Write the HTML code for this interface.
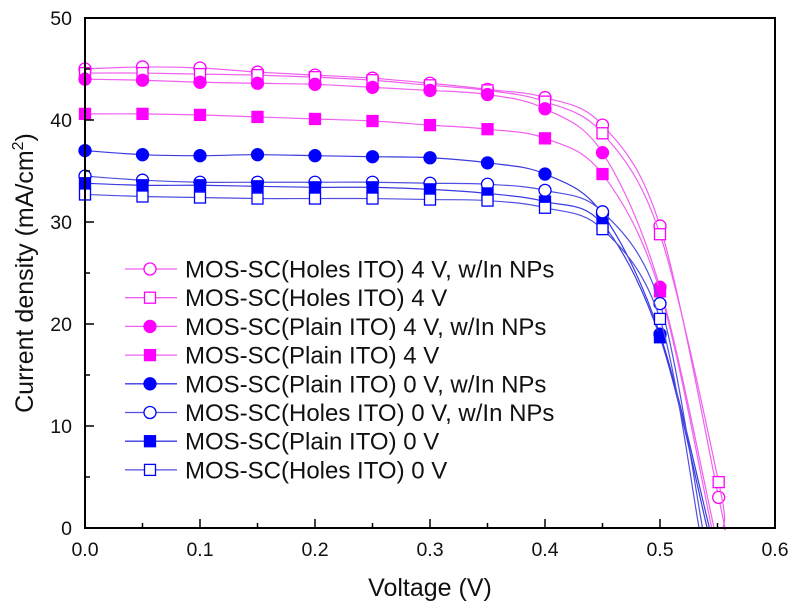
<!DOCTYPE html>
<html><head><meta charset="utf-8"><style>
html,body{margin:0;padding:0;background:#fff;}
svg{display:block;font-family:"Liberation Sans",Arial,sans-serif;}
</style></head><body>
<svg id="chart" width="795" height="608" viewBox="0 0 795 608" xmlns="http://www.w3.org/2000/svg">
<g id="grid"></g><g id="series"></g><g id="axes"></g><g id="legend"></g>
</svg>
<script>
const xVals = [0,0.05,0.1,0.15,0.2,0.25,0.3,0.35,0.4,0.45,0.5];
const seriesNames = ["MOS-SC(Holes ITO) 4 V, w/In NPs","MOS-SC(Holes ITO) 4 V","MOS-SC(Plain ITO) 4 V, w/In NPs","MOS-SC(Plain ITO) 4 V","MOS-SC(Plain ITO) 0 V, w/In NPs","MOS-SC(Holes ITO) 0 V, w/In NPs","MOS-SC(Plain ITO) 0 V","MOS-SC(Holes ITO) 0 V"];
const s1 = [45.0,45.2,45.1,44.7,44.4,44.1,43.6,43.0,42.2,39.5,29.6,3.0];
const s2 = [44.6,44.6,44.5,44.4,44.2,43.9,43.4,42.9,41.8,38.7,28.8,4.5];
const s3 = [44.0,43.9,43.7,43.6,43.5,43.2,42.9,42.5,41.1,36.8,23.6];
const s4 = [40.6,40.6,40.5,40.3,40.1,39.9,39.5,39.1,38.2,34.7,23.2];
const s5 = [37.0,36.6,36.5,36.6,36.5,36.4,36.3,35.8,34.7,30.8,19.0];
const s6 = [34.5,34.1,33.9,33.9,33.9,33.9,33.8,33.7,33.1,31.0,22.0];
const s7 = [33.8,33.6,33.6,33.5,33.4,33.4,33.2,32.8,32.0,29.8,18.7];
const s8 = [32.7,32.5,32.4,32.3,32.3,32.3,32.2,32.1,31.4,29.3,20.5];
const extraX = [0.551,0.551,null,null,null,null,null,null];
const vocs = [0.556,0.555,0.547,0.545,0.543,0.537,0.541,0.534];
const xTicks = [0,0.1,0.2,0.3,0.4,0.5,0.6];
const xTickLabels = ["0.0","0.1","0.2","0.3","0.4","0.5","0.6"];
const yTicks = [0,10,20,30,40,50];

const allSeries=[s1,s2,s3,s4,s5,s6,s7,s8];
const styles=[
 {c:"#ff00ff",l:"#f060f0",m:"circle",f:false},
 {c:"#ff00ff",l:"#f060f0",m:"square",f:false},
 {c:"#ff00ff",l:"#f060f0",m:"circle",f:true},
 {c:"#ff00ff",l:"#f060f0",m:"square",f:true},
 {c:"#0000ff",l:"#3a3ae0",m:"circle",f:true},
 {c:"#0000ff",l:"#5050e0",m:"circle",f:false},
 {c:"#0000ff",l:"#3a3ae0",m:"square",f:true},
 {c:"#0000ff",l:"#5050e0",m:"square",f:false}];
const X0=85,X1=775,Y0=528,Y1=18;
const xs=v=>X0+(v/0.6)*(X1-X0);
const ys=v=>Y0-(v/50)*(Y0-Y1);
const NS="http://www.w3.org/2000/svg";
function mk(t,a,p){const e=document.createElementNS(NS,t);for(const k in a)e.setAttribute(k,a[k]);p.appendChild(e);return e;}
const gS=document.getElementById('series'),gA=document.getElementById('axes'),gL=document.getElementById('legend');

function marker(g,st,x,y){
 let e;
 if(st.m==="circle") e=mk('circle',{cx:x,cy:y,r:6,fill:st.f?st.c:"#fff",stroke:st.c,'stroke-width':1.3},g);
 else e=mk('rect',{x:x-5.5,y:y-5.5,width:11,height:11,fill:st.f?st.c:"#fff",stroke:st.c,'stroke-width':1.3},g);
 return e;
}
function pathThrough(pts){
 let d="M"+pts[0][0]+","+pts[0][1];
 for(let i=0;i<pts.length-1;i++){
  const p0=pts[Math.max(0,i-1)],p1=pts[i],p2=pts[i+1],p3=pts[Math.min(pts.length-1,i+2)];
  const c1=[p1[0]+(p2[0]-p0[0])/6,p1[1]+(p2[1]-p0[1])/6];
  const c2=[p2[0]-(p3[0]-p1[0])/6,p2[1]-(p3[1]-p1[1])/6];
  d+=" C"+c1[0]+","+c1[1]+" "+c2[0]+","+c2[1]+" "+p2[0]+","+p2[1];
 }
 return d;
}
allSeries.forEach((s,i)=>{
 const st=styles[i];
 const g=mk('g',{},gS);
 
 
 const pts=[];
 s.forEach((v,j)=>{const xv=j<xVals.length?xVals[j]:extraX[i];pts.push([xs(xv),ys(v)]);});
 pts.push([xs(vocs[i]),ys(0)]);
 const p=mk('path',{d:pathThrough(pts),fill:"none",stroke:st.l,'stroke-width':1.2},g);
 
 
 s.forEach((v,j)=>{const xv=j<xVals.length?xVals[j]:extraX[i];
  const m=marker(g,st,xs(xv),ys(v));
  
  });
});
const fr=mk('rect',{x:X0,y:Y1,width:X1-X0,height:Y0-Y1,fill:"none",stroke:"#000",'stroke-width':2},gA);


xTicks.forEach((t,i)=>{
 const x=xs(t);
 mk('line',{x1:x,y1:Y0,x2:x,y2:Y0-9,stroke:"#000",'stroke-width':1.5},gA);
 if(i<xTicks.length-1) mk('line',{x1:xs(t+0.05),y1:Y0,x2:xs(t+0.05),y2:Y0-5,stroke:"#000",'stroke-width':1.5},gA);
 const tx=mk('text',{x:x,y:556,'text-anchor':'middle','font-size':19.5,fill:"#111"},gA);
 tx.textContent=xTickLabels[i];
 
 
});
yTicks.forEach((t,i)=>{
 const y=ys(t);
 mk('line',{x1:X0,y1:y,x2:X0+9,y2:y,stroke:"#000",'stroke-width':1.5},gA);
 if(i<yTicks.length-1) mk('line',{x1:X0,y1:ys(t+5),x2:X0+5,y2:ys(t+5),stroke:"#000",'stroke-width':1.5},gA);
 const tx=mk('text',{x:X0-13,y:y+7,'text-anchor':'end','font-size':19.5,fill:"#111"},gA);
 tx.textContent=t;
 
 
});
const xt=mk('text',{x:430,y:596,'text-anchor':'middle','font-size':25,fill:"#111"},gA);
xt.textContent="Voltage (V)";


const yt=mk('text',{x:0,y:0,'text-anchor':'middle','font-size':25,fill:"#111",transform:"translate(33,"+((Y0+Y1)/2)+") rotate(-90)"},gA);
yt.innerHTML='Current density (mA/cm<tspan dy="-10" font-size="16">2</tspan><tspan dy="10">)</tspan>';


seriesNames.forEach((n,i)=>{
 const st=styles[i];const y=269+i*28.7;
 const g=mk('g',{},gL);
 
 
 mk('line',{x1:125,y1:y,x2:177,y2:y,stroke:st.l,'stroke-width':1.3},g);
 marker(g,st,150,y);
 const t=mk('text',{x:185,y:y+8.5,'font-size':24,fill:"#111"},g);
 t.textContent=n;
});
</script>
</body></html>
